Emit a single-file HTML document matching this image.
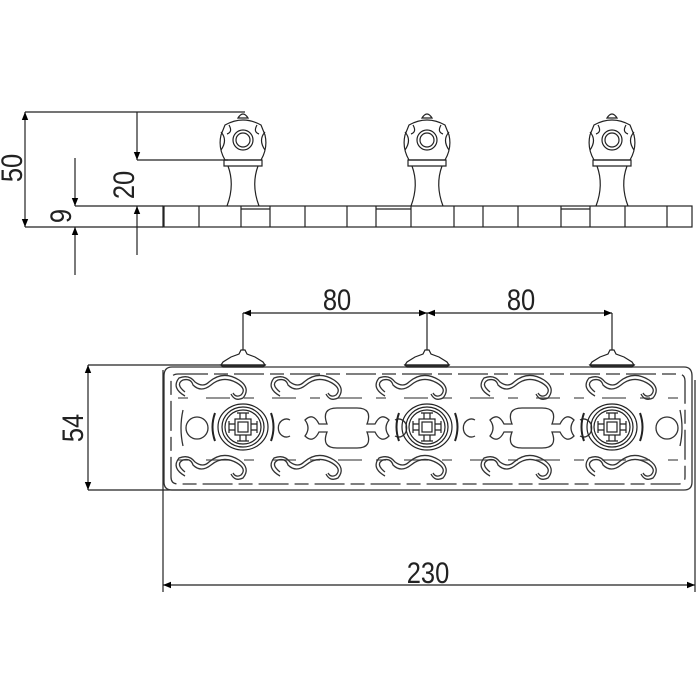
<!DOCTYPE html>
<html><head><style>body{margin:0;background:#fff}svg{display:block}</style></head><body>
<svg width="700" height="700" viewBox="0 0 700 700" xmlns="http://www.w3.org/2000/svg" font-family="Liberation Sans, sans-serif">
<defs>
<marker id="a" viewBox="0 0 10 10" refX="10" refY="5" markerWidth="15" markerHeight="8" markerUnits="userSpaceOnUse" orient="auto-start-reverse"><path d="M0,1 L10,5 L0,9z" fill="#000"/></marker>
<g id="knob" fill="none" stroke="#222" stroke-width="1.2">
<path d="M-5,118 Q0,110 5,118 Z"/>
<path d="M-18,125 Q0,115 18,125 L22,135 Q25,148 18,160 L-18,160 Q-25,148 -22,135 Z"/>
<circle cx="0" cy="140" r="10"/><circle cx="0" cy="140" r="7"/>
<path d="M-22,132 Q-15,140 -22,150 M22,132 Q15,140 22,150"/>
<path d="M-14,125 Q-10,132 -16,134 M14,125 Q10,132 16,134"/>
<path d="M-19,160 L19,160 L19,166 L-19,166 Z"/>
<path d="M-15,166 Q-8,185 -16,206 M15,166 Q8,185 16,206"/>
</g>
<g id="rose" fill="none" stroke="#222" stroke-width="1.2">
<ellipse cx="0" cy="0" rx="25" ry="23"/><ellipse cx="0" cy="0" rx="21" ry="20"/>
<ellipse cx="0" cy="0" rx="18" ry="17"/>
<rect x="-5" y="-5" width="10" height="10"/><rect x="-8" y="-8" width="16" height="16"/>
<path d="M-6,-14 h12 M-6,14 h12 M-14,-6 v12 M14,-6 v12 M-3,-8 v-6 M3,-8 v-6 M-3,8 v6 M3,8 v6 M-8,-3 h-6 M-8,3 h-6 M8,-3 h6 M8,3 h6"/>
<path d="M-28,-14 Q-33,0 -28,14 M28,-14 Q33,0 28,14" stroke-width="2"/>
</g>
<g id="base" stroke="#222" stroke-width="1.2">
<path d="M-2,-12 L2,-12 L4,-8 L12,-5 L20,0 L22,3 L-22,3 L-20,0 L-12,-5 L-4,-8 Z" fill="#fff"/>
<path d="M-22,3 L22,3 L20,5 L-20,5Z" fill="#333"/>
</g>
<g id="scroll" fill="none" stroke="#333" stroke-width="1.3">
<path d="M0,0 q-10,-8 -2,-12 q8,-2 10,5 q8,8 18,0 q12,-10 26,-2 q10,6 4,12 q-5,3 -8,-2"/>
<path d="M0,4 q-14,-8 -6,-18 q10,-4 16,4 q8,6 14,0 q14,-12 30,-2 q12,8 4,18 q-8,4 -12,-4"/>
</g>
</defs>

<!-- TOP VIEW -->
<g stroke="#222" stroke-width="1.2" fill="none">
<line x1="25" y1="112" x2="245" y2="112"/>
<line x1="137" y1="160" x2="228" y2="160"/>
<line x1="75" y1="206" x2="163" y2="206"/>
<line x1="25" y1="227" x2="163" y2="227"/>
<line x1="25" y1="112" x2="25" y2="227" marker-start="url(#a)" marker-end="url(#a)"/>
<line x1="137" y1="112" x2="137" y2="160" marker-end="url(#a)"/>
<line x1="137" y1="255" x2="137" y2="206" marker-end="url(#a)"/>
<line x1="75" y1="158" x2="75" y2="206" marker-end="url(#a)"/>
<line x1="75" y1="275" x2="75" y2="227" marker-end="url(#a)"/>
<rect x="163" y="206" width="529" height="21"/>
<path d="M164,206v21M199,206v21M241,206v21M270,206v21M305,206v21M347,206v21M376,206v21M411,206v21M454,206v21M483,206v21M518,206v21M561,206v21M590,206v21M625,206v21M667,206v21"/>
<path d="M241,209h29M376,209h35M561,209h29"/>
</g>
<use href="#knob" x="243" y="0"/>
<use href="#knob" x="427" y="0"/>
<use href="#knob" x="612" y="0"/>
<g fill="#222" font-size="30" text-anchor="middle">
<text transform="translate(22,168) rotate(-90) scale(0.85,1)">50</text>
<text transform="translate(134,185) rotate(-90) scale(0.85,1)">20</text>
<text transform="translate(71,216) rotate(-90) scale(0.85,1)">9</text>
<text transform="translate(337,310) scale(0.85,1)">80</text>
<text transform="translate(521,310) scale(0.85,1)">80</text>
<text transform="translate(428,583) scale(0.85,1)">230</text>
<text transform="translate(83,428) rotate(-90) scale(0.85,1)">54</text>
</g>

<!-- FRONT VIEW dims -->
<g stroke="#222" stroke-width="1.2" fill="none">
<line x1="243" y1="313" x2="243" y2="355"/>
<line x1="427" y1="313" x2="427" y2="355"/>
<line x1="612" y1="313" x2="612" y2="355"/>
<line x1="243" y1="313" x2="427" y2="313" marker-start="url(#a)" marker-end="url(#a)"/>
<line x1="427" y1="313" x2="612" y2="313" marker-start="url(#a)" marker-end="url(#a)"/>
<line x1="88" y1="365" x2="240" y2="365"/>
<line x1="88" y1="490" x2="200" y2="490"/>
<line x1="88" y1="365" x2="88" y2="490" marker-start="url(#a)" marker-end="url(#a)"/>
<line x1="163" y1="370" x2="163" y2="592"/>
<line x1="695" y1="380" x2="695" y2="592"/>
<line x1="163" y1="585" x2="695" y2="585" marker-start="url(#a)" marker-end="url(#a)"/>
</g>

<!-- plate -->
<g fill="none" stroke="#333" stroke-width="1.3">
<path d="M172,367 H684 Q692,367 692,376 V482 Q692,490 684,490 H172 Q164,490 164,482 V376 Q164,367 172,367 Z"/>
<path d="M178,374 H678 Q685,374 685,381 V477 Q685,484 678,484 H178 Q171,484 171,477 V381 Q171,374 178,374 Z" stroke-dasharray="30 6 14 6"/>
<path d="M178,398 H678 M178,460 H678" stroke-dasharray="10 18 24 14" stroke="#555"/>
</g>
<use href="#scroll" x="185" y="392"/><use href="#scroll" x="280" y="392"/><use href="#scroll" x="385" y="392"/><use href="#scroll" x="490" y="392"/><use href="#scroll" x="595" y="392"/>
<use href="#scroll" x="185" y="472"/><use href="#scroll" x="280" y="472"/><use href="#scroll" x="385" y="472"/><use href="#scroll" x="490" y="472"/><use href="#scroll" x="595" y="472"/>
<g fill="none" stroke="#333" stroke-width="1.3">
<circle cx="197" cy="428" r="11"/><circle cx="667" cy="428" r="11"/>
<path d="M183,410 q-4,18 0,36 M680,410 q4,18 0,36"/>
<path d="M290,420 a8,9 0 1 0 0,16 M580,420 a8,9 0 1 1 0,16 M475,420 a8,9 0 1 0 0,16 M395,420 a8,9 0 1 1 0,16"/>
<path d="M305,420 q8,-8 14,4 l8,0 q-6,-16 10,-16 h20 q16,0 10,16 l8,0 q6,-12 14,-4 q-6,8 0,16 q-8,8 -14,-4 l-8,0 q6,16 -10,16 h-20 q-16,0 -10,-16 l-8,0 q-6,12 -14,4 q6,-8 0,-16 Z"/>
<path d="M490,420 q8,-8 14,4 l8,0 q-6,-16 10,-16 h20 q16,0 10,16 l8,0 q6,-12 14,-4 q-6,8 0,16 q-8,8 -14,-4 l-8,0 q6,16 -10,16 h-20 q-16,0 -10,-16 l-8,0 q-6,12 -14,4 q6,-8 0,-16 Z"/>
</g>
<use href="#rose" x="243" y="427"/>
<use href="#rose" x="427" y="427"/>
<use href="#rose" x="612" y="427"/>
<use href="#base" x="243" y="362"/>
<use href="#base" x="427" y="362"/>
<use href="#base" x="612" y="362"/>
</svg>
</body></html>
